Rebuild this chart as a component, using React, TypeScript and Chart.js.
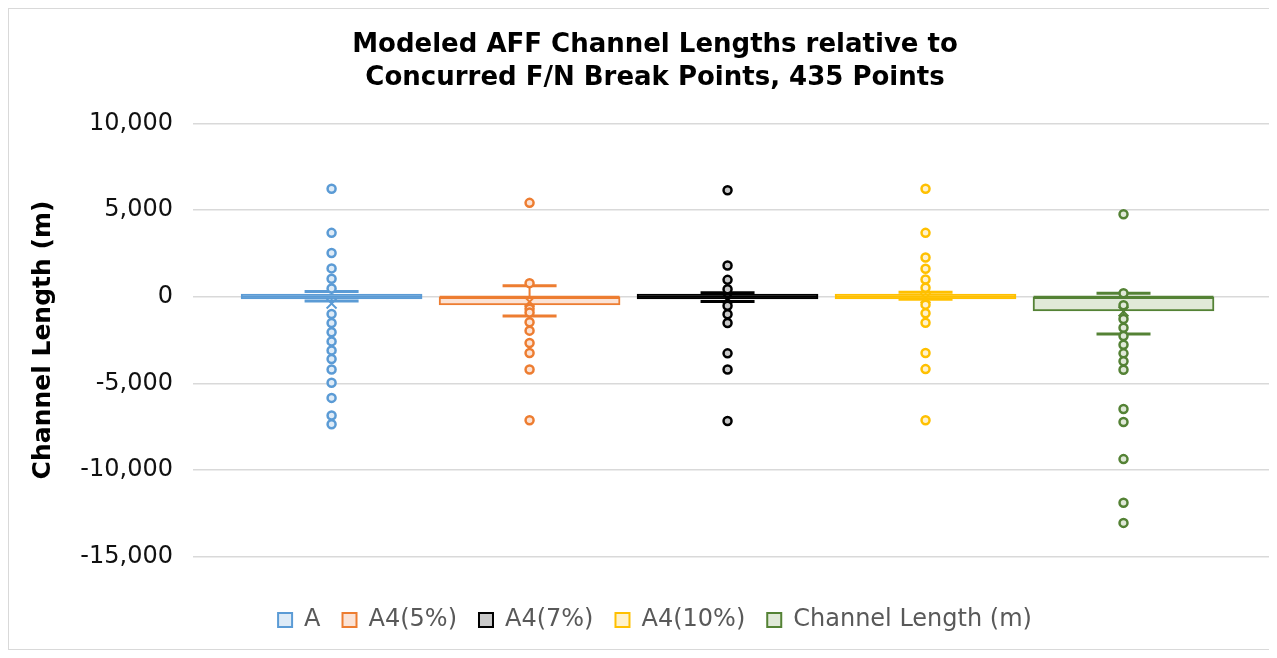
import React, { useEffect, useRef } from 'react';
import { Chart, registerables } from 'chart.js';

Chart.register(...registerables);

const chartTitle = ['Modeled AFF Channel Lengths relative to', 'Concurred F/N Break Points, 435 Points'];
const yAxisTitle = 'Channel Length (m)';
const seriesNames = ['A', 'A4(5%)', 'A4(7%)', 'A4(10%)', 'Channel Length (m)'];
const seriesColors = ['#5b9bd5', '#ed7d31', '#000000', '#ffc000', '#548235'];
const seriesFills = ['#deebf7', '#fbe3d6', '#c9c9c9', '#fff2cc', '#e0e9d8'];

const q1Values = [-130, -480, -130, -130, -820];
const q3Values = [150, 0, 150, 150, 0];
const medianValues = [0, 0, 0, 0, 0];
const whiskerLow = [-250, -1110, -280, -150, -2150];
const whiskerHigh = [300, 625, 230, 260, 200];
const meanValues = [-400, -300, -100, -80, -850];

const pointsA = [6220, 3680, 2520, 1630, 1030, 470, -1000, -1520, -2050, -2580, -3100, -3600, -4200, -4970, -5840, -6860, -7360];
const pointsB = [5410, 780, -700, -920, -1480, -1960, -2670, -3250, -4200, -7130];
const pointsC = [6140, 1800, 970, 430, -530, -1010, -1520, -3270, -4200, -7170];
const pointsD = [6220, 3680, 2260, 1610, 990, 510, -460, -960, -1500, -3250, -4180, -7130];
const pointsE = [4750, 200, -500, -1290, -1790, -2270, -2770, -3270, -3730, -4220, -6480, -7230, -9370, -11890, -13050];
const seriesPoints = [pointsA, pointsB, pointsC, pointsD, pointsE];

const yTicks = [10000, 5000, 0, -5000, -10000, -15000];
const yMin = -15000;
const yMax = 10000;

const FONT = 'DejaVu Sans';

export default function App() {
  const ref = useRef<HTMLCanvasElement>(null);

  useEffect(() => {
    if (!ref.current) return;
    document.body.style.overflow = 'hidden';
    const datasets: any[] = [];
    seriesNames.forEach((name, i) => {
      datasets.push({
        type: 'bar',
        label: name,
        data: [{ x: i + 1, y: [q1Values[i], q3Values[i]] }],
        backgroundColor: seriesFills[i],
        borderColor: seriesColors[i],
        borderWidth: 2,
        borderSkipped: false,
        barThickness: 181,
        grouped: false,
        order: 3,
      });
    });
    seriesNames.forEach((name, i) => {
      datasets.push({
        type: 'line',
        label: name + ' whisker',
        data: [
          { x: i + 1, y: whiskerLow[i] },
          { x: i + 1, y: whiskerHigh[i] },
        ],
        borderColor: seriesColors[i],
        borderWidth: 2,
        pointRadius: 0,
        order: 4,
      });
      datasets.push({
        type: 'scatter',
        label: name + ' caps',
        data: [
          { x: i + 1, y: whiskerLow[i] },
          { x: i + 1, y: whiskerHigh[i] },
        ],
        pointStyle: 'line',
        pointRadius: 27,
        pointBorderWidth: 3,
        pointBorderColor: seriesColors[i],
        order: 2,
      });
      datasets.push({
        type: 'scatter',
        label: name + ' median',
        data: [{ x: i + 1, y: medianValues[i] }],
        pointStyle: 'line',
        pointRadius: 90,
        pointBorderWidth: 2,
        pointBorderColor: seriesColors[i],
        order: 2,
      });
      datasets.push({
        type: 'scatter',
        label: name + ' points',
        data: seriesPoints[i].map((v) => ({ x: i + 1, y: v })),
        pointStyle: 'circle',
        pointRadius: 4,
        pointBorderWidth: 2.5,
        pointBorderColor: seriesColors[i],
        pointBackgroundColor: seriesFills[i],
        order: 1,
      });
      datasets.push({
        type: 'scatter',
        label: name + ' mean',
        data: [{ x: i + 1, y: meanValues[i] }],
        pointStyle: 'crossRot',
        pointRadius: 7,
        pointBorderWidth: 2,
        pointBorderColor: seriesColors[i],
        order: 0,
      });
    });

    const chart = new Chart(ref.current, {
      type: 'bar',
      data: { datasets },
      options: {
        responsive: false,
        animation: false,
        events: [],
        layout: { autoPadding: false, padding: { left: 29, right: 5, top: 0, bottom: 7 } },
        scales: {
          x: {
            type: 'linear',
            min: 0.3,
            max: 5.75,
            offset: false,
            grid: { display: false },
            border: { display: false },
            ticks: { display: false },
            afterFit: (s: any) => {
              s.height = 29.3;
            },
          },
          y: {
            type: 'linear',
            min: yMin,
            max: yMax,
            afterBuildTicks: (s: any) => {
              s.ticks = yTicks.map((v) => ({ value: v }));
            },
            afterFit: (s: any) => {
              s.width = 155;
            },
            grid: { color: '#d9d9d9', lineWidth: 1.5, drawTicks: false },
            border: { display: false },
            ticks: {
              padding: 20,
              color: '#111111',
              font: { family: FONT, size: 24 },
              callback: (v: any) => Number(v).toLocaleString('en-US'),
            },
            title: {
              display: true,
              text: yAxisTitle,
              color: '#000000',
              font: { family: FONT, size: 25, weight: 'bold', lineHeight: 1.2 },
              padding: { top: -10, bottom: 0 },
            },
          },
        },
        plugins: {
          tooltip: { enabled: false },
          title: {
            display: true,
            text: chartTitle,
            color: '#000000',
            font: { family: FONT, size: 26, weight: 'bold', lineHeight: 33 / 26 },
            padding: { top: 19.5, bottom: 28.8 },
          },
          legend: {
            display: true,
            position: 'bottom',
            labels: {
              filter: (item: any, data: any) => data.datasets[item.datasetIndex].type === 'bar',
              boxWidth: 14,
              boxHeight: 14,
              padding: 22,
              color: '#595959',
              font: { family: FONT, size: 24 },
            },
          },
        },
      } as any,
    });
    return () => chart.destroy();
  }, []);

  return (
    <div
      style={{
        width: 1269,
        height: 642,
        boxSizing: 'border-box',
        borderLeft: '1px solid #d9d9d9',
        borderTop: '1px solid #d9d9d9',
        borderBottom: '1px solid #d9d9d9',
        borderRight: 'none',
        background: '#ffffff',
        overflow: 'hidden',
      }}
    >
      <canvas ref={ref} width={1268} height={640} style={{ display: 'block' }} />
    </div>
  );
}
